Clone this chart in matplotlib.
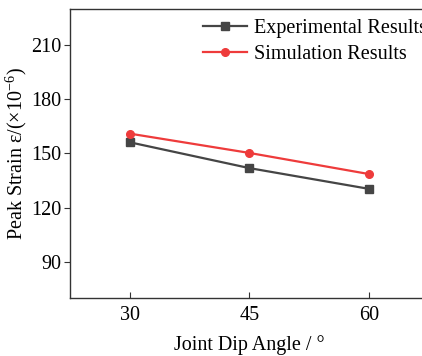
import matplotlib
matplotlib.use("Agg")
import matplotlib.pyplot as plt

angles = [30, 45, 60]
experimental = [156.2, 141.9, 130.4]
simulation = [161.0, 150.3, 138.6]
xticks = [30, 45, 60]
yticks = [90, 120, 150, 180, 210]

plt.rcParams['font.family'] = ['Liberation Serif', 'DejaVu Serif']
plt.rcParams['mathtext.fontset'] = 'custom'
plt.rcParams['mathtext.rm'] = 'Liberation Serif'
plt.rcParams['mathtext.it'] = 'Liberation Serif:italic'

FS = 14.5

fig = plt.figure(figsize=(4.22, 3.56), dpi=100)
ax = fig.add_axes([70/422, 58/356, 359/422, 289/356])

ax.plot(angles, experimental, color='#454545', marker='s', markersize=6, lw=1.6, label='Experimental Results')
ax.plot(angles, simulation, color='#ee3b3b', marker='o', markersize=5.5, lw=1.6, label='Simulation Results')

ax.set_xlim(22.5, 67.5)
ax.set_ylim(70, 230)
ax.set_xticks(xticks)
ax.set_yticks(yticks)
ax.tick_params(axis='x', direction='in', length=4, labelsize=FS, pad=6, color='#333333')
ax.tick_params(axis='y', direction='out', length=4, labelsize=FS, pad=2, color='#333333')
for s in ['top', 'bottom', 'left', 'right']:
    ax.spines[s].set_color('#333333')
    ax.spines[s].set_linewidth(1.0)

ax.set_xlabel('Joint Dip Angle / °', fontsize=FS, labelpad=7)
ax.set_ylabel('Peak Strain ε/(×10$^{-6}$)', fontsize=FS)
ax.yaxis.set_label_coords(-0.115, 0.5)

leg = ax.legend(loc='upper left', bbox_to_anchor=(199/422, 1 - 15/356), bbox_transform=fig.transFigure,
                frameon=False, fontsize=FS, handlelength=2.2, handletextpad=0.35, labelspacing=0.32,
                borderaxespad=0, borderpad=0.2)

fig.savefig('out.png', dpi=100)
